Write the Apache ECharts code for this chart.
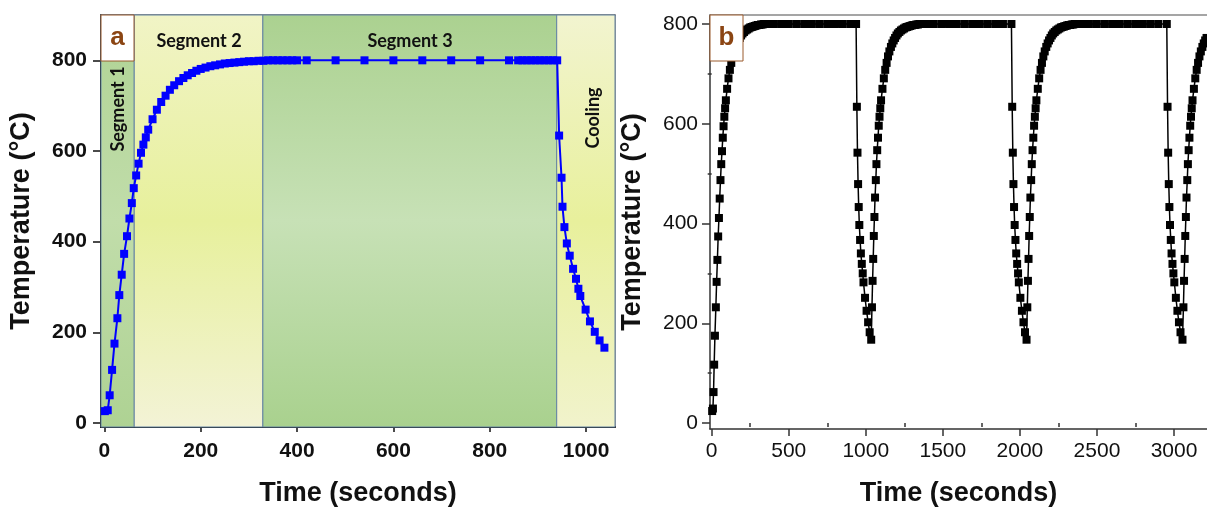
<!DOCTYPE html>
<html>
<head>
<meta charset="utf-8">
<script src="https://cdn.jsdelivr.net/npm/echarts@6/dist/echarts.min.js"></script>
<style>
html, body { margin: 0; padding: 0; background: #fff; }
#chart { width: 1207px; height: 512px; }
</style>
</head>
<body>
<div id="chart"></div>
<script>
// panel a: one heating / hold / cooling run  [time s, temperature C]
const panelA = [
  [1, 26], [7, 28], [11, 61], [16, 117], [21, 175], [27, 231], [31, 282], [36, 327], [41, 373], [47, 412],
  [52, 451], [57, 485], [61, 518], [66, 546], [71, 572], [76, 596], [81, 614], [86, 630], [91, 647], [100, 670],
  [109, 691], [118, 708], [127, 722], [136, 735], [145, 745], [155, 754], [164, 761], [173, 767], [182, 772], [191, 777],
  [200, 781], [210, 784], [220, 787], [230, 789], [240, 791], [250, 793], [260, 794], [270, 795], [280, 796], [290, 797],
  [300, 798], [310, 798], [320, 799], [330, 799], [340, 800], [350, 800], [360, 800], [370, 800], [380, 800], [390, 800],
  [400, 800], [420, 800], [480, 800], [540, 800], [600, 800], [660, 800], [720, 800], [780, 800], [840, 800], [859, 800],
  [868, 800], [877, 800], [886, 800], [895, 800], [904, 800], [913, 800], [922, 800], [931, 800], [940, 800],
  [944, 634], [949, 541], [951, 477], [955, 432], [960, 396], [966, 369], [973, 340], [979, 318], [984, 296], [988, 280],
  [999, 250], [1008, 224], [1018, 201], [1028, 182], [1038, 166]
];

// panel a shaded stages
const segBounds = [-7, 62, 329, 939, 1060];
const segNames = ['Segment 1', 'Segment 2', 'Segment 3', 'Cooling'];

// panel b: repeated cycles  [time s, temperature C]
const cycle1 = [
  [3, 24], [8, 29], [12, 62], [16, 117], [21, 175], [27, 232], [32, 283], [37, 327], [42, 374], [47, 411],
  [52, 450], [57, 487], [62, 519], [67, 545], [72, 572], [77, 595], [82, 614], [87, 631], [92, 647], [100, 670],
  [109, 691], [118, 708], [127, 722], [136, 735], [145, 745], [155, 754], [164, 761], [173, 767], [182, 772], [191, 777],
  [200, 781], [210, 784], [220, 787], [230, 789], [240, 791], [250, 793], [260, 794], [270, 795], [280, 796], [290, 797],
  [300, 798], [310, 798], [320, 799], [330, 799], [340, 800], [350, 800], [360, 800], [370, 800], [380, 800], [390, 800],
  [400, 800], [450, 800], [500, 800], [550, 800], [600, 800], [650, 800], [700, 800], [750, 800], [800, 800], [850, 800],
  [900, 800], [937, 800],
  [942, 634], [946, 542], [950, 479], [954, 433], [958, 397], [963, 367], [968, 340], [974, 319], [980, 300],
  [985, 282], [995, 251], [1005, 225], [1015, 202], [1025, 182], [1035, 167]
];
const cycle2 = [
  [1040, 232], [1044, 285], [1048, 329], [1052, 375], [1056, 413], [1060, 452], [1065, 487], [1069, 519], [1074, 547], [1079, 572],
  [1084, 596], [1089, 614], [1094, 631], [1099, 647], [1108, 670], [1117, 691], [1126, 708], [1135, 722], [1144, 735], [1153, 745],
  [1163, 754], [1172, 761], [1181, 767], [1190, 772], [1199, 777], [1208, 781], [1218, 784], [1228, 787], [1238, 789], [1248, 791],
  [1258, 793], [1268, 794], [1278, 795], [1288, 796], [1298, 797], [1308, 798], [1318, 798], [1328, 799], [1338, 799], [1348, 800],
  [1358, 800], [1368, 800], [1378, 800], [1388, 800], [1398, 800], [1408, 800], [1418, 800], [1428, 800], [1440, 800], [1490, 800],
  [1540, 800], [1590, 800], [1640, 800], [1690, 800], [1740, 800], [1790, 800], [1840, 800], [1890, 800], [1945, 800],
  [1950, 634], [1954, 542], [1958, 479], [1962, 433], [1966, 397], [1971, 367], [1976, 340], [1982, 319], [1988, 300], [1993, 282],
  [2003, 251], [2013, 225], [2023, 202], [2033, 182], [2043, 167]
];
const cycle3 = [
  [2048, 232], [2052, 285], [2056, 329], [2060, 375], [2064, 413], [2068, 452], [2073, 487], [2077, 519], [2082, 547], [2087, 572],
  [2092, 596], [2097, 614], [2102, 631], [2107, 647], [2116, 670], [2125, 691], [2134, 708], [2143, 722], [2152, 735], [2161, 745],
  [2171, 754], [2180, 761], [2189, 767], [2198, 772], [2207, 777], [2216, 781], [2226, 784], [2236, 787], [2246, 789], [2256, 791],
  [2266, 793], [2276, 794], [2286, 795], [2296, 796], [2306, 797], [2316, 798], [2326, 798], [2336, 799], [2346, 799], [2356, 800],
  [2366, 800], [2376, 800], [2386, 800], [2396, 800], [2406, 800], [2416, 800], [2426, 800], [2436, 800], [2448, 800], [2498, 800],
  [2548, 800], [2598, 800], [2648, 800], [2698, 800], [2748, 800], [2798, 800], [2848, 800], [2898, 800], [2953, 800],
  [2958, 634], [2962, 542], [2966, 479], [2970, 433], [2974, 397], [2979, 367], [2984, 340], [2990, 319], [2996, 300], [3002, 282],
  [3012, 251], [3022, 225], [3032, 202], [3042, 182], [3055, 167]
];
const cycle4 = [
  [3061, 232], [3065, 285], [3069, 329], [3073, 375], [3077, 413], [3081, 452], [3086, 487], [3090, 519], [3095, 547], [3100, 572],
  [3105, 596], [3110, 614], [3115, 631], [3120, 647], [3129, 670], [3138, 691], [3147, 708], [3156, 722], [3165, 735], [3174, 745],
  [3184, 754], [3193, 761], [3202, 767], [3211, 772], [3220, 777]
];

// tick values
const aXTicks = [0, 200, 400, 600, 800, 1000];
const aXMinor = [100, 300, 500, 700, 900];
const yTicks = [0, 200, 400, 600, 800];
const yMinor = [100, 300, 500, 700];
const bXTicks = [0, 500, 1000, 1500, 2000, 2500, 3000];
const bXMinor = [250, 750, 1250, 1750, 2250, 2750];

const FONT = 'Liberation Sans';
const chart = echarts.init(document.getElementById('chart'));

function lin(stops) {
  return new echarts.graphic.LinearGradient(0, 0, 0, 1, stops.map((c, i) => ({ offset: i / (stops.length - 1), color: c })));
}
const segColors = [
  lin(['#afd394', '#c1ddaa', '#aed293']),
  lin(['#f1f4c6', '#e7f09c', '#f3f3d6']),
  lin(['#abd190', '#c7e1b6', '#a9d18e']),
  lin(['#f2f4d0', '#e8f09c', '#f1f3cc'])
];
const areas = segNames.map((n, i) => [
  { xAxis: segBounds[i], itemStyle: { color: segColors[i] } },
  { xAxis: segBounds[i + 1] }
]);

function axisPair(grid, min, max, major, minor, o) {
  const base = { gridIndex: grid, type: 'value', min: min, max: max, splitLine: { show: false } };
  return [
    Object.assign({}, base, {
      position: o.position,
      axisLine: { show: true, onZero: false, lineStyle: { color: o.lineColor, width: o.lineWidth } },
      axisTick: { show: true, inside: false, length: o.tickLen, customValues: major, lineStyle: { color: o.lineColor, width: 1.5 } },
      axisLabel: {
        customValues: major, margin: o.margin, color: '#111', fontFamily: FONT,
        fontSize: 21, fontWeight: o.labelWeight, formatter: v => String(v)
      },
      name: o.name, nameLocation: 'middle', nameGap: o.nameGap,
      nameTextStyle: { fontFamily: FONT, fontSize: 27, fontWeight: 'bold', color: '#111' }
    }),
    Object.assign({}, base, {
      position: o.position,
      axisLine: { show: false },
      axisTick: { show: true, inside: false, length: o.minorLen, customValues: minor, lineStyle: { color: o.lineColor, width: 1.5 } },
      axisLabel: { show: false }
    }),
    Object.assign({}, base, {
      position: o.position === 'bottom' ? 'top' : 'right',
      axisLine: { show: o.frame, onZero: false, lineStyle: { color: o.frameColor, width: 1.5 } },
      axisTick: { show: false },
      axisLabel: { show: false }
    })
  ];
}

const xA = axisPair(0, -7, 1060, aXTicks, aXMinor, {
  position: 'bottom', lineColor: '#111', lineWidth: 2, tickLen: 5, minorLen: 5, margin: 14,
  labelWeight: 'bold', name: 'Time (seconds)', nameGap: 53, frame: true, frameColor: '#666'
});
const yA = axisPair(0, -9, 900, yTicks, yMinor, {
  position: 'left', lineColor: '#111', lineWidth: 2, tickLen: 8, minorLen: 4, margin: 14,
  labelWeight: 'bold', name: 'Temperature (°C)', nameGap: 66, frame: true, frameColor: '#777'
});
const xB = axisPair(1, -11, 3214, bXTicks, bXMinor, {
  position: 'bottom', lineColor: '#333', lineWidth: 1.5, tickLen: 7, minorLen: 4, margin: 12,
  labelWeight: 'normal', name: 'Time (seconds)', nameGap: 51, frame: true, frameColor: '#888'
});
const yB = axisPair(1, -12, 818, yTicks, yMinor, {
  position: 'left', lineColor: '#333', lineWidth: 1.5, tickLen: 8, minorLen: 4, margin: 12,
  labelWeight: 'normal', name: 'Temperature (°C)', nameGap: 64, frame: false, frameColor: '#888'
});

function boxText(x, ch) {
  return [
    { type: 'rect', z: 100, shape: { x: x, y: 15, width: 33, height: 46 },
      style: { fill: '#fff', stroke: '#9a5a2c', lineWidth: 1 } },
    { type: 'text', z: 101, x: x + 16.5, y: 38,
      style: { text: ch, fill: '#8b4513', font: 'bold 26px "Liberation Sans"', align: 'center', verticalAlign: 'middle' } }
  ];
}
function segLabel(text, x, y, rot) {
  return { type: 'text', z: 101, x: x, y: y, rotation: rot,
    style: { text: text, fill: '#111', font: 'bold 18px Lato', align: 'center', verticalAlign: 'middle' } };
}

chart.setOption({
  animation: false,
  grid: [
    { left: 101, top: 15, width: 514, height: 418 },
    { left: 710, top: 15, width: 497, height: 415 }
  ],
  xAxis: xA.concat(xB),
  yAxis: yA.concat(yB),
  series: [
    {
      type: 'line', xAxisIndex: 0, yAxisIndex: 0, data: [], z: 1, silent: true,
      markArea: { silent: true, label: { show: false },
        itemStyle: { borderColor: '#6383a3', borderWidth: 1 }, data: areas }
    },
    {
      type: 'line', xAxisIndex: 0, yAxisIndex: 0, data: panelA, symbol: 'rect', symbolSize: 8, z: 5,
      lineStyle: { color: '#0000ff', width: 2 }, itemStyle: { color: '#0000ff' }
    },
    {
      type: 'line', xAxisIndex: 3, yAxisIndex: 3, symbol: 'rect', symbolSize: 8, z: 5,
      data: cycle1.concat(cycle2, cycle3, cycle4),
      lineStyle: { color: '#000', width: 1.5 }, itemStyle: { color: '#000' }
    }
  ],
  graphic: boxText(101, 'a').concat(boxText(710, 'b'), [
    segLabel(segNames[0], 118, 109, Math.PI / 2),
    segLabel(segNames[1], 199, 41, 0),
    segLabel(segNames[2], 410, 41, 0),
    segLabel(segNames[3], 593, 118, Math.PI / 2)
  ])
});
</script>
</body>
</html>
